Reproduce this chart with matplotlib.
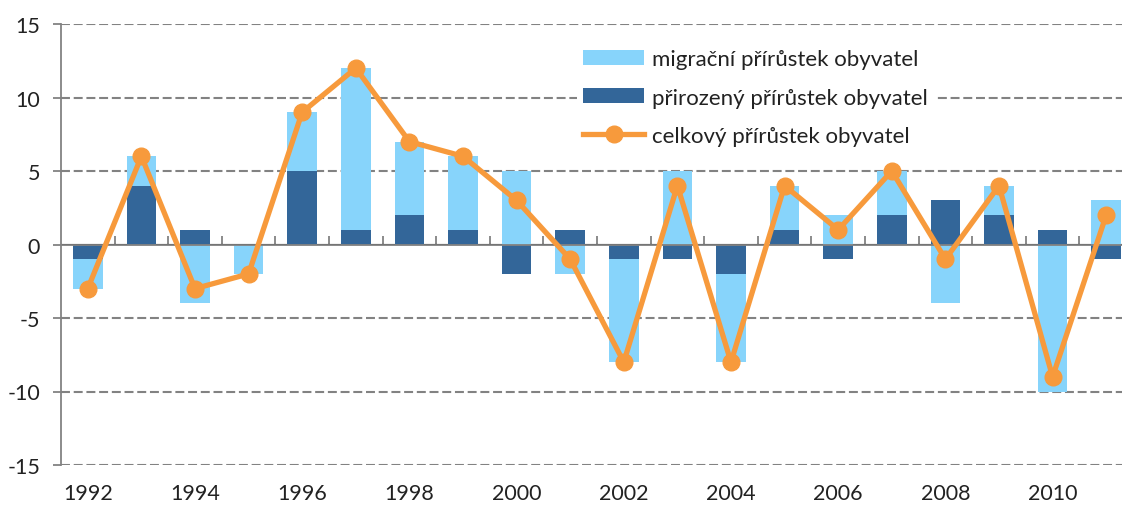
import numpy as np
import matplotlib.pyplot as plt

# Data
years = list(range(1992, 2012))
prirozeny = [-1, 4, 1, 0, 5, 1, 2, 1, -2, 1, -1, -1, -2, 1, -1, 2, 3, 2, 1, -1]
migracni = [-2, 2, -4, -2, 4, 11, 5, 5, 5, -2, -7, 5, -6, 3, 2, 3, -4, 2, -10, 3]
celkovy = [-3, 6, -3, -2, 9, 12, 7, 6, 3, -1, -8, 4, -8, 4, 1, 5, -1, 4, -9, 2]
yticks = [-15, -10, -5, 0, 5, 10, 15]

c_light = '#87D4FB'
c_dark = '#336699'
c_orange = '#F79A3C'
c_grid = '#828282'

plt.rcParams['font.family'] = ['Lato', 'DejaVu Sans']

fig = plt.figure(figsize=(11.22, 5.06), dpi=100)
ax = fig.add_axes([61 / 1122, 40 / 506, 1072 / 1122, 441 / 506])

x = np.arange(len(years))
nat = np.array(prirozeny)
mig = np.array(migracni)
# Excel-style stacking: positives stack up, negatives stack down
mig_bottom = np.where(np.sign(mig) == np.sign(nat), nat, 0)

b1 = ax.bar(x, mig, bottom=mig_bottom, width=0.55, color=c_light, zorder=2,
            label='migrační přírůstek obyvatel')
b2 = ax.bar(x, nat, width=0.55, color=c_dark, zorder=2,
            label='přirozený přírůstek obyvatel')
l1, = ax.plot(x, celkovy, color=c_orange, lw=3.8, marker='o', markersize=12,
              zorder=3, label='celkový přírůstek obyvatel')

# gridlines (dashed) and zero axis line
for v in yticks:
    if v != 0:
        ax.axhline(v, color=c_grid, lw=1.5, ls=(0, (4.3, 1.8)), zorder=1)
ax.axhline(0, color=c_grid, lw=1.3, zorder=2.5)

ax.set_xlim(-0.5, len(years) - 0.5)
ax.set_ylim(-15, 15)
ax.set_yticks(yticks)
ax.set_yticklabels([str(v) for v in yticks])
ax.set_xticks(x[::2])
ax.set_xticklabels([str(y) for y in years[::2]])

for s in ['top', 'right', 'bottom']:
    ax.spines[s].set_visible(False)
ax.spines['left'].set_color(c_grid)
ax.spines['left'].set_linewidth(1.3)

ax.tick_params(axis='y', length=6, width=1.3, color=c_grid, pad=9,
               labelsize=15.5, labelcolor='#222222')
ax.tick_params(axis='x', length=0, pad=13, labelsize=15.5, labelcolor='#222222')

# small tick marks on the zero line at category boundaries
sec = ax.secondary_xaxis(0.5)
sec.set_xticks(np.arange(0.5, len(years) - 0.5, 1))
sec.set_xticklabels([])
sec.tick_params(length=6, width=1.3, color=c_grid, direction='out')
sec.spines['bottom'].set_visible(False)

leg = ax.legend(handles=[b1, b2, l1], loc='upper left',
                bbox_to_anchor=(0.481, 0.958), fontsize=16,
                frameon=True, facecolor='white', edgecolor='none', framealpha=1,
                handlelength=2.75, handleheight=0.65, handletextpad=0.35,
                labelspacing=0.83, borderpad=0.3, borderaxespad=0)
leg.set_zorder(4)
for t in leg.get_texts():
    t.set_color('#222222')

fig.savefig('out.png', dpi=100)
